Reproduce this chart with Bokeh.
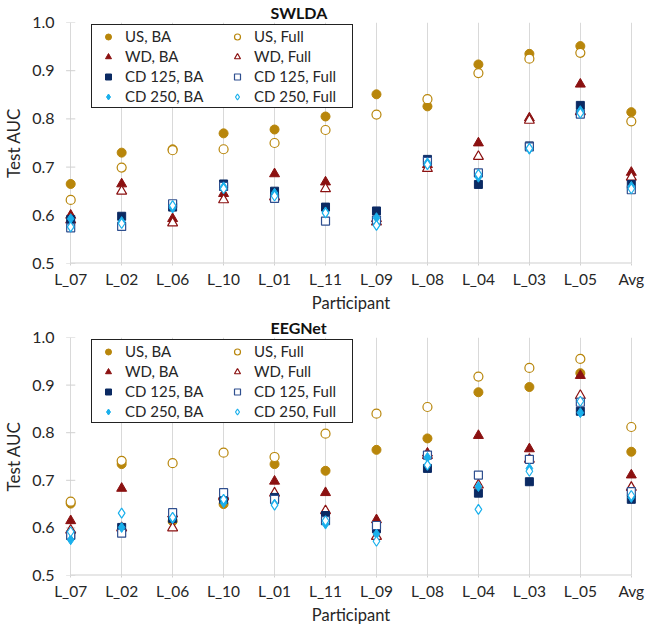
from bokeh.plotting import figure
from bokeh.models import Range1d, FixedTicker, Legend, LegendItem
from bokeh.layouts import column
from bokeh.embed import file_html
from bokeh.resources import INLINE

FONT = "Lato"

participants = ["L_07", "L_02", "L_06", "L_10", "L_01", "L_11", "L_09", "L_08", "L_04", "L_03", "L_05", "Avg"]
y_ticks = [0.5, 0.6, 0.7, 0.8, 0.9, 1.0]

series_names = ["US, BA", "US, Full", "WD, BA", "WD, Full",
                "CD 125, BA", "CD 125, Full", "CD 250, BA", "CD 250, Full"]

# SWLDA panel
swlda_us_ba = [0.665, 0.730, 0.737, 0.770, 0.778, 0.805, 0.851, 0.826, 0.913, 0.935, 0.951, 0.814]
swlda_us_full = [0.632, 0.699, 0.735, 0.737, 0.750, 0.777, 0.809, 0.841, 0.895, 0.925, 0.937, 0.795]
swlda_wd_ba = [0.600, 0.665, 0.593, 0.645, 0.686, 0.669, 0.593, 0.705, 0.750, 0.802, 0.872, 0.689]
swlda_wd_full = [0.590, 0.650, 0.584, 0.632, 0.638, 0.655, 0.586, 0.697, 0.722, 0.797, 0.815, 0.679]
swlda_cd125_ba = [0.591, 0.598, 0.617, 0.665, 0.650, 0.617, 0.609, 0.716, 0.664, 0.744, 0.828, 0.664]
swlda_cd125_full = [0.574, 0.577, 0.624, 0.660, 0.635, 0.588, 0.590, 0.712, 0.688, 0.742, 0.810, 0.653]
swlda_cd250_ba = [0.593, 0.587, 0.615, 0.659, 0.646, 0.607, 0.595, 0.709, 0.679, 0.737, 0.817, 0.660]
swlda_cd250_full = [0.576, 0.583, 0.620, 0.655, 0.640, 0.605, 0.579, 0.705, 0.685, 0.739, 0.812, 0.655]

# EEGNet panel
eeg_us_ba = [0.651, 0.734, 0.614, 0.650, 0.734, 0.720, 0.764, 0.788, 0.885, 0.896, 0.925, 0.760]
eeg_us_full = [0.655, 0.741, 0.736, 0.758, 0.749, 0.798, 0.840, 0.854, 0.918, 0.936, 0.955, 0.812]
eeg_wd_ba = [0.615, 0.683, 0.629, 0.668, 0.698, 0.674, 0.617, 0.757, 0.794, 0.766, 0.920, 0.711]
eeg_wd_full = [0.595, 0.600, 0.600, 0.665, 0.673, 0.636, 0.582, 0.752, 0.690, 0.744, 0.878, 0.685]
eeg_cd125_ba = [0.584, 0.601, 0.620, 0.660, 0.664, 0.626, 0.598, 0.725, 0.673, 0.697, 0.845, 0.660]
eeg_cd125_full = [0.585, 0.589, 0.632, 0.674, 0.660, 0.615, 0.605, 0.753, 0.711, 0.744, 0.864, 0.676]
eeg_cd250_ba = [0.575, 0.601, 0.619, 0.653, 0.650, 0.608, 0.587, 0.748, 0.687, 0.725, 0.842, 0.664]
eeg_cd250_full = [0.592, 0.631, 0.622, 0.660, 0.648, 0.615, 0.572, 0.732, 0.639, 0.719, 0.866, 0.668]

GOLD = "#B8860B"
RED = "#8B1111"
NAVY = "#0B2A63"
NAVY_OUT = "#2F4F8F"
LBLUE = "#1AB0EC"

# (marker, color, filled, size)
styles = [
    ("circle", GOLD, True, 9),
    ("circle", GOLD, False, 9),
    ("triangle", RED, True, 10),
    ("triangle", RED, False, 10),
    ("square", NAVY, True, 8),
    ("square", NAVY_OUT, False, 8),
    ("diamond", LBLUE, True, 10),
    ("diamond", LBLUE, False, 10),
]

# legend fills column by column: BA series first, then Full series
legend_order = [0, 2, 4, 6, 1, 3, 5, 7]


def make_panel(title, series, frame_h, top, bottom):
    xs = list(range(len(participants)))
    p = figure(frame_width=581, frame_height=frame_h,
               x_range=Range1d(-0.2, len(participants) - 1 + 0.2),
               y_range=Range1d(y_ticks[0], y_ticks[-1]),
               output_backend="svg", toolbar_location=None,
               min_border_left=60, min_border_right=9,
               min_border_top=top, min_border_bottom=bottom)
    p.outline_line_color = None
    p.background_fill_color = "white"

    p.title.text = title
    p.title.align = "left"
    p.title.text_font = FONT
    p.title.text_font_style = "bold"
    p.title.text_font_size = "16px"
    p.title.text_color = "#111111"
    p.title.offset = 210
    p.title.standoff = 1
    p.title.text_line_height = 1.0

    # grids
    p.ygrid.grid_line_color = None
    p.xgrid.ticker = FixedTicker(ticks=xs)
    p.xgrid.grid_line_color = "#D9D9D9"
    p.xgrid.grid_line_width = 1

    # x axis
    xa = p.xaxis[0]
    xa.ticker = FixedTicker(ticks=xs)
    xa.major_label_overrides = {i: c for i, c in enumerate(participants)}
    xa.axis_line_color = None
    xa.major_tick_in = 0
    xa.major_tick_out = 2
    xa.major_tick_line_color = "#D0D0D0"
    xa.minor_tick_line_color = None
    xa.major_label_text_font = FONT
    xa.major_label_text_font_size = "15.5px"
    xa.major_label_text_color = "#262626"
    xa.major_label_text_line_height = 1.0
    xa.major_label_standoff = 4
    xa.axis_label = "Participant"
    xa.axis_label_text_font = FONT
    xa.axis_label_text_font_size = "16.5px"
    xa.axis_label_text_font_style = "normal"
    xa.axis_label_text_color = "#262626"
    xa.axis_label_text_line_height = 1.0
    xa.axis_label_standoff = 2

    # y axis
    ya = p.yaxis[0]
    ya.ticker = FixedTicker(ticks=y_ticks)
    ya.major_label_overrides = {t: f"{t:.1f}" for t in y_ticks}
    ya.axis_line_color = None
    ya.major_tick_in = 0
    ya.major_tick_out = 0
    ya.minor_tick_line_color = None
    ya.major_label_text_font = FONT
    ya.major_label_text_font_size = "16px"
    ya.major_label_text_color = "#262626"
    ya.major_label_standoff = 6
    ya.axis_label = "Test AUC"
    ya.axis_label_text_font = FONT
    ya.axis_label_text_font_size = "17px"
    ya.axis_label_text_font_style = "normal"
    ya.axis_label_text_color = "#262626"
    ya.axis_label_text_line_height = 1.0
    ya.axis_label_standoff = 5

    # baseline and y tick marks
    p.segment(x0=[xs[0]], x1=[xs[-1]], y0=[y_ticks[0]], y1=[y_ticks[0]],
              line_color="#D0D0D0", line_width=2)
    p.segment(x0=[-0.09] * len(y_ticks), x1=[0.09] * len(y_ticks),
              y0=y_ticks, y1=y_ticks, line_color="#D0D0D0", line_width=1)

    renderers = []
    for vals, (marker, color, filled, size) in zip(series, styles):
        r = p.scatter(xs, vals, marker=marker, size=size,
                      fill_color=color if filled else "white",
                      line_color=color, line_width=1.2 if not filled else 1)
        renderers.append(r)
    items = [LegendItem(label=series_names[i], renderers=[renderers[i]]) for i in legend_order]

    legend = Legend(items=items, orientation="vertical", ncols=2,
                    location=(31, frame_h - 86),
                    border_line_color="#222222", border_line_width=1, border_line_alpha=1,
                    background_fill_color="white", background_fill_alpha=1,
                    padding=1, spacing=0, margin=0,
                    glyph_width=30, glyph_height=15, label_height=20,
                    label_width=97, label_standoff=2,
                    label_text_font=FONT, label_text_font_size="15px",
                    label_text_line_height=1.0,
                    label_text_color="#262626")
    p.add_layout(legend)
    return p


p1 = make_panel("SWLDA",
                [swlda_us_ba, swlda_us_full, swlda_wd_ba, swlda_wd_full,
                 swlda_cd125_ba, swlda_cd125_full, swlda_cd250_ba, swlda_cd250_full],
                241, 20, 46)
p2 = make_panel("EEGNet",
                [eeg_us_ba, eeg_us_full, eeg_wd_ba, eeg_wd_full,
                 eeg_cd125_ba, eeg_cd125_full, eeg_cd250_ba, eeg_cd250_full],
                238, 22, 46)

layout = column(p1, p2)
open("out.html", "w").write(file_html(layout, INLINE))
